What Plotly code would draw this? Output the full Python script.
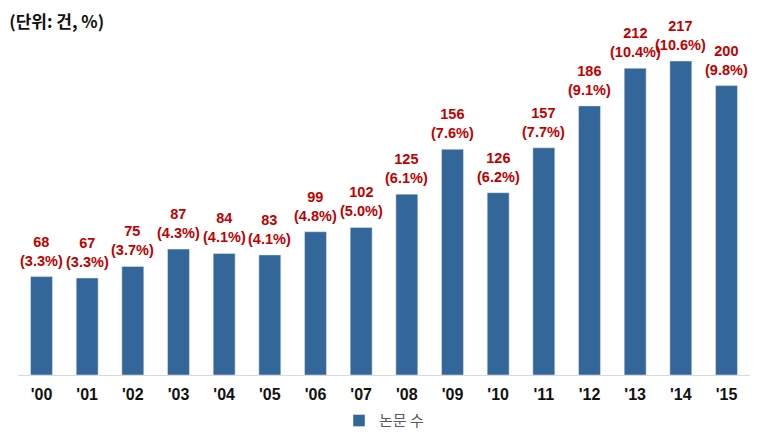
import plotly.graph_objects as go

years = ["'00", "'01", "'02", "'03", "'04", "'05", "'06", "'07", "'08", "'09", "'10", "'11", "'12", "'13", "'14", "'15"]
papers = [68, 67, 75, 87, 84, 83, 99, 102, 125, 156, 126, 157, 186, 212, 217, 200]
shares = [3.3, 3.3, 3.7, 4.3, 4.1, 4.1, 4.8, 5.0, 6.1, 7.6, 6.2, 7.7, 9.1, 10.4, 10.6, 9.8]

fig = go.Figure()
fig.add_trace(go.Bar(
    x=years, y=papers, name="논문 수",
    marker=dict(color="#336699"),
    width=0.48,
))

for yr, v, s in zip(years, papers, shares):
    fig.add_annotation(
        x=yr, y=v, text=f"<b>{v}<br>({s:.1f}%)</b>",
        showarrow=False, yanchor="bottom", yshift=6,
        font=dict(family="Liberation Sans, Arial", size=14.5, color="#C00000"),
    )

fig.update_layout(
    width=769, height=436,
    margin=dict(l=18, r=19, t=48, b=61, autoexpand=False),
    plot_bgcolor="white", paper_bgcolor="white",
    title=dict(text="<b>(단위: 건, %)</b>", x=0.012, xanchor="left", xref="container",
               y=0.95, yanchor="middle", yref="container",
               font=dict(family="Noto Sans CJK KR, Liberation Sans", size=17, color="#111111")),
    showlegend=True,
    legend=dict(orientation="h", x=0.5, xanchor="center", y=0.035, yanchor="middle",
                yref="container",
                font=dict(family="Noto Sans CJK KR, Liberation Sans", size=15, color="#595959")),
    xaxis=dict(showline=True, linecolor="#D9D9D9", linewidth=1, ticks="outside", ticklen=5,
               tickcolor="rgba(0,0,0,0)",
               tickfont=dict(family="Liberation Sans, Arial", size=16, color="#111111"),
               showgrid=False),
    yaxis=dict(visible=False, range=[0, 226], showgrid=False),
    font=dict(family="Liberation Sans, Arial"),
)

fig.update_xaxes(tickprefix="<b>", ticksuffix="</b>")

fig.write_html("out.html")
